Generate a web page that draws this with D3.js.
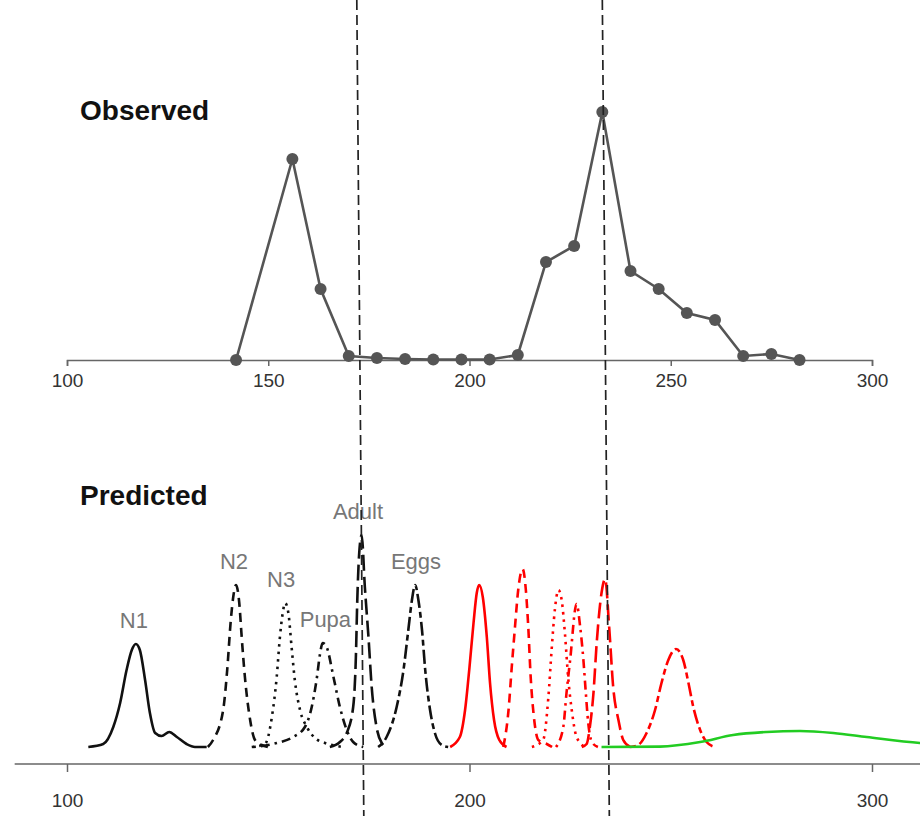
<!DOCTYPE html>
<html>
<head>
<meta charset="utf-8">
<script src="https://cdn.jsdelivr.net/npm/d3@7"></script>
<style>
  body { margin: 0; background: #fff; }
  svg { display: block; font-family: "Liberation Sans", Arial, Helvetica, sans-serif; }
</style>
</head>
<body>
<svg width="920" height="816"></svg>
<script>
// observed counts (top panel)
const obsDays = [142, 156, 163, 170, 177, 184, 191, 198, 205, 212, 219, 226, 233, 240, 247, 254, 261, 268, 275, 282];
const obsCounts = [0, 201, 71, 4, 2, 1, 0.5, 0.5, 0.5, 5, 98, 114, 248, 89, 71, 47, 40, 4, 6, 0];

const xTicksTop = [100, 150, 200, 250, 300];
const xTicksBottom = [100, 200, 300];
const markerDays = [172, 233];

// predicted curves (bottom panel), [day, density]
const n1 = [[105.3, 0], [109, 1.5], [111.5, 10], [113.2, 22], [114.8, 38.5], [116.1, 48.5], [117.1, 51.5], [118.1, 48.5], [119.4, 33.5], [120.6, 17], [121.9, 7], [123.5, 5.5], [125.4, 7.5], [127.3, 5], [129.7, 1.5], [131.8, 0], [134.7, 0]];
const n2 = [[135, 0], [136.3, 3.5], [138.8, 18.5], [139.8, 38.5], [140.7, 63.5], [141.3, 75], [142, 81], [142.8, 72], [143.4, 55], [144.2, 35], [145.5, 13.5], [146.7, 3.5], [148.4, 1], [149.9, 0]];
const n3 = [[145.9, 0], [149.2, 1.5], [150.9, 15], [152.1, 35], [152.9, 55], [153.6, 67], [154.2, 72], [155, 67], [155.8, 50], [156.6, 33.5], [157.9, 18.5], [159.6, 10], [161.6, 4.5], [164.1, 2], [167, 0.5], [168.3, 0]];
const pupa = [[146.3, 0], [152.1, 2], [156.2, 5], [159.1, 10], [160.8, 20], [162, 33.5], [162.9, 47], [163.5, 52], [164.5, 50], [166.2, 35], [167.8, 20], [169.5, 8.5], [171.1, 2.5], [173.6, 0]];
const adult = [[165.3, 0], [167.8, 2.5], [169.5, 7], [171.1, 20], [171.8, 47], [172.1, 72], [172.6, 97], [173.2, 106], [174, 80], [174.9, 55], [175.7, 30], [176.9, 10], [178.2, 2], [179.4, 0]];
const eggs = [[177.3, 0], [179.4, 5], [181.9, 20], [183.6, 38.5], [184.8, 58.5], [185.7, 73.5], [186.5, 81], [187.3, 73.5], [188.2, 58.5], [189, 38.5], [190.2, 18.5], [191.4, 7], [193.1, 1], [194.7, 0]];
const red1 = [[195.2, 0], [197.6, 5], [198.9, 18.5], [200, 40], [201, 62], [201.8, 77], [202.4, 81], [203.3, 75], [204.3, 55], [205.1, 32], [206.1, 13.5], [207.4, 3.5], [209.2, 0]];
const red2 = [[208.4, 0], [209.7, 18.5], [210.5, 40], [211.3, 60], [212.1, 78.5], [213.2, 89], [214, 78.5], [214.6, 60], [215.2, 35], [216, 15], [217.1, 3.5], [219.2, 1.5], [220.5, 0]];
const red3 = [[215.5, 0], [218.3, 3.5], [219.6, 25], [220.4, 48.5], [221.2, 68.5], [222.1, 78.5], [222.9, 73.5], [223.7, 57], [224.5, 35], [225.4, 18.5], [226.6, 5], [228.7, 0]];
const red4 = [[221.5, 0], [223.3, 10], [224.1, 27], [225, 43.5], [226.6, 71.5], [227.5, 60], [228.3, 43.5], [228.9, 27], [229.5, 12], [230.4, 2.5], [231.9, 0]];
const red5 = [[227.9, 0], [229.1, 1.5], [229.9, 10], [230.8, 27], [231.6, 52], [232.8, 77], [233.7, 84], [234.7, 60], [235.7, 30], [237, 13.5], [238.2, 3.5], [239.9, 0]];
const red6 = [[239.9, 0], [241.9, 1], [244, 7], [246.1, 18.5], [247.7, 32], [249.4, 43.5], [251.3, 49], [253.1, 43.5], [254.4, 32], [255.6, 20], [257.3, 8.5], [258.9, 2.5], [261, 0]];
const green = [[232.8, 0], [247.3, 0.2], [257.3, 2.5], [265.5, 6], [273.8, 7.5], [282.1, 8], [290.4, 7], [298.7, 5], [311.9, 2], [320, 0.8]];

const stageNames = ['N1', 'N2', 'N3', 'Pupa', 'Adult', 'Eggs'];
const stageLabelDays = [116.6, 141.5, 153.2, 164.2, 172.3, 186.7];

const svg = d3.select('svg');

const x = d3.scaleLinear().domain([100, 300]).range([67, 872]);
const yTop = d3.scaleLinear().domain([0, 250]).range([360, 110]);
const yBot = d3.scaleLinear().domain([0, 100]).range([747, 547]);

// ---- top panel ----
const topAxis = svg.append('g')
    .attr('transform', 'translate(0,360)')
    .call(d3.axisBottom(x).tickValues(xTicksTop).tickSize(6).tickPadding(8).tickFormat(d3.format('d')));
topAxis.select('.domain').attr('stroke', '#666').attr('stroke-width', 1.5);
topAxis.selectAll('.tick line').attr('stroke', '#666').attr('stroke-width', 1.5);
topAxis.selectAll('.tick text').attr('font-size', 19).attr('fill', '#333')
    .attr('font-family', '"Liberation Sans", Arial, sans-serif');

const obs = obsDays.map((d, i) => ({ day: d, count: obsCounts[i] }));

svg.append('path')
    .datum(obs)
    .attr('fill', 'none')
    .attr('stroke', '#555')
    .attr('stroke-width', 2.6)
    .attr('d', d3.line().x(d => x(d.day)).y(d => yTop(d.count)));

svg.append('g')
    .selectAll('circle')
    .data(obs)
    .enter().append('circle')
    .attr('cx', d => x(d.day))
    .attr('cy', d => yTop(d.count))
    .attr('r', 6)
    .attr('fill', '#555');

svg.append('text')
    .attr('x', 80).attr('y', 120)
    .attr('font-size', 28).attr('font-weight', 'bold').attr('fill', '#111')
    .text('Observed');

// ---- bottom panel ----
svg.append('line')
    .attr('x1', x(87)).attr('x2', x(313))
    .attr('y1', 764).attr('y2', 764)
    .attr('stroke', '#666').attr('stroke-width', 1.5);

const botAxis = svg.append('g')
    .attr('transform', 'translate(0,764)')
    .call(d3.axisBottom(x).tickValues(xTicksBottom).tickSize(8).tickPadding(22).tickFormat(d3.format('d')));
botAxis.select('.domain').remove();
botAxis.selectAll('.tick line').attr('stroke', '#666').attr('stroke-width', 1.5);
botAxis.selectAll('.tick text').attr('font-size', 19).attr('fill', '#333')
    .attr('font-family', '"Liberation Sans", Arial, sans-serif');

svg.append('text')
    .attr('x', 80).attr('y', 505)
    .attr('font-size', 28).attr('font-weight', 'bold').attr('fill', '#111')
    .text('Predicted');

const dashes = {
    solid: null,
    dashed: '9,6',
    dotted: '2.5,5',
    dotdash: '2.5,5,9,5',
    longdash: '16,6',
    twodash: '6,4,14,4'
};

const curves = [
    { pts: n1, color: '#111', lty: 'solid' },
    { pts: n2, color: '#111', lty: 'dashed' },
    { pts: n3, color: '#111', lty: 'dotted' },
    { pts: pupa, color: '#111', lty: 'dotdash' },
    { pts: adult, color: '#111', lty: 'longdash' },
    { pts: eggs, color: '#111', lty: 'twodash' },
    { pts: red1, color: '#ff0000', lty: 'solid' },
    { pts: red2, color: '#ff0000', lty: 'dashed' },
    { pts: red3, color: '#ff0000', lty: 'dotted' },
    { pts: red4, color: '#ff0000', lty: 'dotdash' },
    { pts: red5, color: '#ff0000', lty: 'longdash' },
    { pts: red6, color: '#ff0000', lty: 'twodash' },
    { pts: green, color: '#22cc22', lty: 'solid' }
];

const densLine = d3.line()
    .x(d => x(d[0]))
    .y(d => yBot(d[1]))
    .curve(d3.curveMonotoneX);

svg.append('g')
    .selectAll('path')
    .data(curves)
    .enter().append('path')
    .attr('fill', 'none')
    .attr('stroke', d => d.color)
    .attr('stroke-width', 2.6)
    .attr('stroke-dasharray', d => dashes[d.lty])
    .attr('d', d => densLine(d.pts));

// stage labels sit a little above each black peak
svg.append('g')
    .selectAll('text')
    .data(stageNames)
    .enter().append('text')
    .attr('x', (d, i) => x(stageLabelDays[i]))
    .attr('y', (d, i) => yBot(d3.max(curves[i].pts, p => p[1])) - 16)
    .attr('text-anchor', 'middle')
    .attr('font-size', 22)
    .attr('fill', '#777')
    .text(d => d);

// vertical markers across both panels
svg.append('g')
    .selectAll('line')
    .data(markerDays)
    .enter().append('line')
    .attr('x1', d => x(d)).attr('y1', 0)
    .attr('x2', d => x(d) + 7).attr('y2', 816)
    .attr('stroke', '#222')
    .attr('stroke-width', 1.7)
    .attr('stroke-dasharray', '10,5');
</script>
</body>
</html>
